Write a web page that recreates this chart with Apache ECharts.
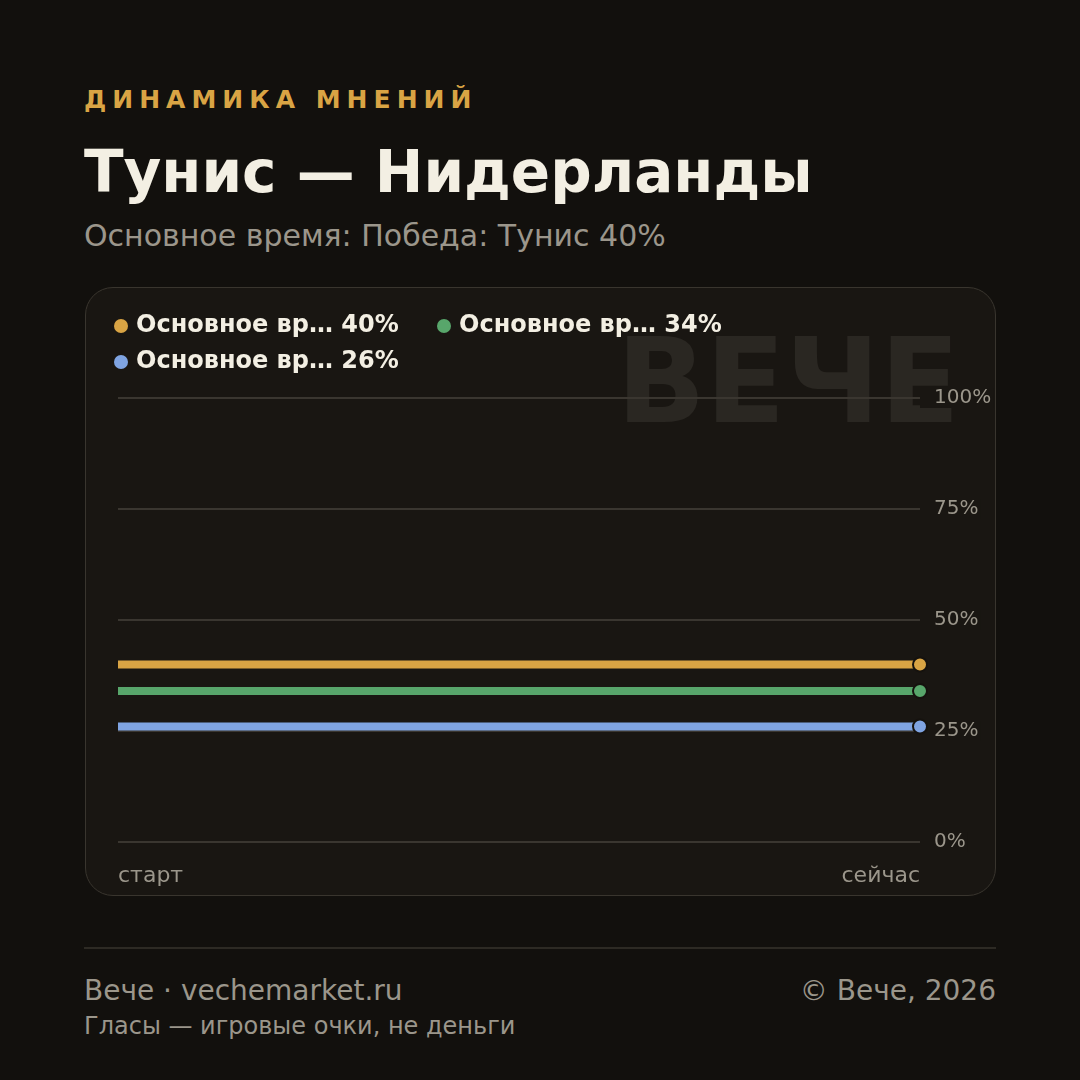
<!DOCTYPE html>
<html>
<head>
<meta charset="utf-8">
<script src="https://cdn.jsdelivr.net/npm/echarts@6/dist/echarts.min.js"></script>
<style>
    html, body {
        margin: 0;
        padding: 0;
        width: 1080px;
        height: 1080px;
        background: #12100d;
        font-family: "DejaVu Sans", sans-serif;
        overflow: hidden;
    }
    .txt {
        position: absolute;
        left: 84px;
        line-height: 1;
        white-space: nowrap;
    }
    .kicker {
        top: 87px;
        font-size: 25px;
        font-weight: bold;
        letter-spacing: 6px;
        color: #d9a444;
    }
    .title {
        top: 143px;
        font-size: 58px;
        font-weight: bold;
        color: #f3efe3;
    }
    .subtitle {
        top: 221px;
        font-size: 30px;
        color: #9b968b;
    }
    .card {
        position: absolute;
        left: 85px;
        top: 287px;
        width: 911px;
        height: 609px;
        box-sizing: border-box;
        border: 1px solid #39352e;
        border-radius: 28px;
        background: #191612;
        overflow: hidden;
    }
    .chart {
        width: 100%;
        height: 100%;
    }
    .rule {
        position: absolute;
        left: 84px;
        top: 947px;
        width: 912px;
        height: 2px;
        background: #2d2a24;
    }
    .foot {
        top: 977px;
        font-size: 28px;
        color: #9b968b;
    }
    .foot-right {
        left: auto;
        right: 84px;
    }
    .note {
        top: 1014px;
        font-size: 24px;
        color: #9b968b;
    }
</style>
</head>
<body>
    <div class="txt kicker">ДИНАМИКА МНЕНИЙ</div>
    <div class="txt title">Тунис — Нидерланды</div>
    <div class="txt subtitle">Основное время: Победа: Тунис 40%</div>
    <div class="card"><div id="chart" class="chart"></div></div>
    <div class="rule"></div>
    <div class="txt foot">Вече · vechemarket.ru</div>
    <div class="txt foot foot-right">© Вече, 2026</div>
    <div class="txt note">Гласы — игровые очки, не деньги</div>

<script>
// точки времени
const points = ['старт', 'сейчас']

// исходы
const seriesNames = [
    'Основное время: Победа: Тунис',
    'Основное время: Ничья',
    'Основное время: Победа: Нидерланды'
]
const tunisWin = [40, 40]
const draw = [34, 34]
const netherlandsWin = [26, 26]

const yTicks = [0, 25, 50, 75, 100]

const colors = ['#d9a444', '#58a66b', '#7fa4e2']
const values = [tunisWin, draw, netherlandsWin]

const chart = echarts.init(document.getElementById('chart'))

const lastIndex = points.length - 1

const option = {
    animation: false,
    color: colors,
    textStyle: {
        fontFamily: 'DejaVu Sans'
    },
    graphic: [
        {
            type: 'text',
            z: -10,
            right: 35,
            top: 45,
            style: {
                text: 'ВЕЧЕ',
                fontSize: 117,
                fontWeight: 'bold',
                fontFamily: 'DejaVu Sans',
                fill: '#2a2722'
            }
        }
    ],
    legend: {
        left: 28,
        top: 26,
        width: 700,
        padding: 0,
        itemWidth: 14,
        itemHeight: 14,
        itemGap: 12,
        icon: 'circle',
        itemStyle: {
            borderWidth: 0
        },
        formatter: (name) => {
            const i = seriesNames.indexOf(name)
            return name.slice(0, 11) + '… ' + values[i][lastIndex] + '%'
        },
        textStyle: {
            color: '#f3efe3',
            fontSize: 24,
            fontWeight: 'bold',
            width: 289,
            lineHeight: 24,
            padding: [0, 0, 0, 3]
        }
    },
    grid: {
        left: 32,
        right: 75,
        top: 110,
        bottom: 53,
        containLabel: false,
        outerBoundsMode: 'none'
    },
    xAxis: {
        type: 'category',
        boundaryGap: false,
        data: points,
        axisLine: { show: false },
        axisTick: { show: false },
        axisLabel: {
            color: '#9b968b',
            fontSize: 22,
            margin: 23,
            alignMinLabel: 'left',
            alignMaxLabel: 'right'
        }
    },
    yAxis: {
        type: 'value',
        position: 'right',
        min: 0,
        max: 100,
        interval: 25,
        axisLine: { show: false },
        axisTick: { show: false },
        axisLabel: {
            formatter: (v) => yTicks.includes(v) ? v + '%' : '',
            color: '#9b968b',
            fontSize: 20,
            lineHeight: 20,
            margin: 0,
            padding: [0, 2, 0, 14],
            backgroundColor: '#191612'
        },
        splitLine: {
            lineStyle: {
                color: '#3a3630',
                width: 2
            }
        }
    },
    series: seriesNames.map((name, i) => ({
        name: name,
        type: 'line',
        data: values[i],
        symbol: (v, p) => p.dataIndex === lastIndex ? 'circle' : 'none',
        symbolSize: 14,
        lineStyle: {
            width: 8
        },
        itemStyle: {
            color: colors[i],
            borderColor: '#15120e',
            borderWidth: 2
        },
        emphasis: { disabled: true }
    }))
}

chart.setOption(option)
</script>
</body>
</html>
